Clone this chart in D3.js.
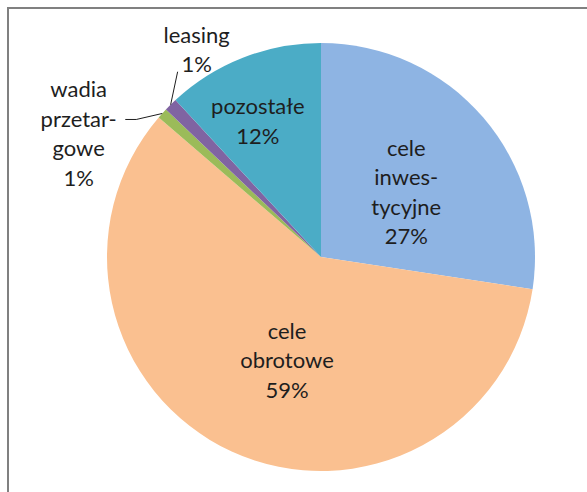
<!DOCTYPE html>
<html>
<head>
<meta charset="utf-8">
<script src="https://cdn.jsdelivr.net/npm/d3@7"></script>
<style>
  html, body { margin: 0; padding: 0; background: #fff; }
  svg { display: block; }
  text { font-family: Lato, "Open Sans", sans-serif; fill: #1e1e1e; }
</style>
</head>
<body>
<svg id="chart" width="587" height="492"></svg>
<script>
// ---- data ----
const categories = ["cele inwestycyjne", "cele obrotowe", "wadia przetargowe", "leasing", "pozostałe"];
const labelLines = [["cele", "inwes-", "tycyjne"], ["cele", "obrotowe"], ["wadia", "przetar-", "gowe"], ["leasing"], ["pozostałe"]];
const values = [27.4, 58.9, 0.8, 1.0, 11.9];
const percentLabels = ["27%", "59%", "1%", "1%", "12%"];
const colors = ["#8EB4E3", "#FAC090", "#9BBB59", "#8064A2", "#4BACC6"];

// ---- layout ----
const W = 587, H = 492;
const cx = 321, cy = 257, R = 214;
const fontSize = 22, lineH = 29.5;
// label placement: [radius factor, angle offset (deg)], inside or outside
const labelPlace = [
  { k: 0.50, da: 3.5, inside: true },
  { k: 0.51, da: -6.5, inside: true },
  { k: 1.27, da: -15.2, inside: false, leader: [[-26, 6], [-37, 6]] },
  { k: 1.13, da: 13.7, inside: false, leader: [[7, -33]] },
  { k: 0.70, da: -3.5, inside: true }
];

const svg = d3.select("#chart");

// frame
svg.append("path")
  .attr("d", `M8,${H + 2} L8,8 L${W + 2},8`)
  .attr("fill", "none")
  .attr("stroke", "#808080")
  .attr("stroke-width", 2);

const g = svg.append("g").attr("transform", `translate(${cx},${cy})`);

const pie = d3.pie().sort(null).value(d => d);
const arcs = pie(values);
const arc = d3.arc().innerRadius(0).outerRadius(R);

g.selectAll("path.slice")
  .data(arcs)
  .join("path")
  .attr("class", "slice")
  .attr("d", arc)
  .attr("fill", (d, i) => colors[i]);

// labels
arcs.forEach((d, i) => {
  const p = labelPlace[i];
  const mid = (d.startAngle + d.endAngle) / 2;
  const a = mid + p.da * Math.PI / 180;
  const lx = Math.sin(a) * R * p.k;
  const ly = -Math.cos(a) * R * p.k;
  const lines = labelLines[i].concat([percentLabels[i]]);
  const n = lines.length;
  const t = g.append("text")
    .attr("text-anchor", "middle")
    .attr("font-size", fontSize);
  lines.forEach((s, j) => {
    t.append("tspan")
      .attr("x", lx)
      .attr("y", ly + (j - (n - 1) / 2) * lineH + fontSize * 0.35)
      .text(s);
  });
  if (p.leader) {
    const ex = Math.sin(mid) * R, ey = -Math.cos(mid) * R;
    const pts = [[ex, ey]].concat(p.leader.map(q => [ex + q[0], ey + q[1]]));
    g.append("path")
      .attr("d", d3.line()(pts))
      .attr("fill", "none")
      .attr("stroke", "#1e1e1e")
      .attr("stroke-width", 1);
  }
});
</script>
</body>
</html>
